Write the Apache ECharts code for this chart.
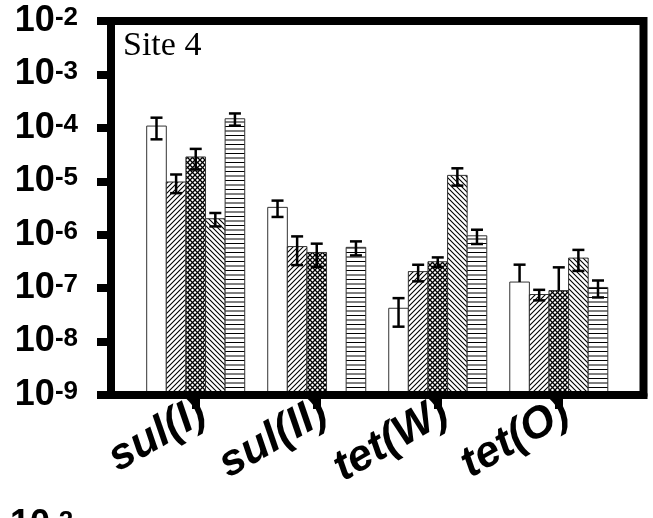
<!DOCTYPE html>
<html>
<head>
<meta charset="utf-8">
<script src="https://cdn.jsdelivr.net/npm/echarts@6/dist/echarts.min.js"></script>
<style>html,body{margin:0;padding:0;background:#fff}#c{width:653px;height:518px}</style>
</head>
<body>
<div id="c"></div>
<script>
// ---- data ----
const categories = ['sul(I)', 'sul(II)', 'tet(W)', 'tet(O)'];
const categoryPos = [1, 2, 3, 4];
const yTicks = [1e-9, 1e-8, 1e-7, 1e-6, 1e-5, 1e-4, 1e-3, 1e-2];
const openVals  = [1.08e-4, 3.25e-6, 4.2e-8, 1.3e-7];
const openErr   = [4.7e-5, 1.1e-6, 2.3e-8, 1.45e-7];
const diagVals  = [9.7e-6, 6.0e-7, 2.04e-7, 7.6e-8];
const diagErr   = [3.7e-6, 3.3e-7, 7.0e-8, 1.7e-8];
const crossVals = [2.85e-5, 4.65e-7, 3.12e-7, 9.0e-8];
const crossErr  = [1.19e-5, 2.15e-7, 6.4e-8, 1.55e-7];
const backVals  = [1.99e-6, null, 1.29e-5, 3.65e-7];
const backErr   = [5.6e-7, null, 4.6e-6, 1.55e-7];
const horizVals = [1.48e-4, 5.8e-7, 9.55e-7, 1.03e-7];
const horizErr  = [3.8e-5, 1.7e-7, 2.85e-7, 3.6e-8];

// ---- patterns ----
function makePattern(kind) {
  const c = document.createElement('canvas');
  let w = 5, h = 5;
  if (kind === 'horiz') { w = 4; h = 9; }
  c.width = w; c.height = h;
  const g = c.getContext('2d');
  g.fillStyle = '#fff'; g.fillRect(0, 0, w, h);
  g.strokeStyle = '#000';
  g.lineWidth = 1.1;
  function diag(dir) {
    g.beginPath();
    for (let k = -1; k <= 1; k++) {
      if (dir > 0) { g.moveTo(-1 + k * w, h + 1); g.lineTo(w + 1 + k * w, -1); }
      else { g.moveTo(-1 + k * w, -1); g.lineTo(w + 1 + k * w, h + 1); }
    }
    g.stroke();
  }
  if (kind === 'diag') diag(1);
  if (kind === 'back') diag(-1);
  if (kind === 'cross') { g.lineWidth = 1.3; diag(1); diag(-1); }
  if (kind === 'horiz') {
    g.lineWidth = 1;
    g.beginPath(); g.moveTo(0, 0.5); g.lineTo(w, 0.5); g.moveTo(0, 5); g.lineTo(w, 5); g.stroke();
  }
  if (kind === 'open') return '#fff';
  return { image: c, repeat: 'repeat' };
}

const groups = [
  { name: 'open',  vals: openVals,  err: openErr },
  { name: 'diag',  vals: diagVals,  err: diagErr },
  { name: 'cross', vals: crossVals, err: crossErr },
  { name: 'back',  vals: backVals,  err: backErr },
  { name: 'horiz', vals: horizVals, err: horizErr }
];
const barW = 0.162;
const yMin = 1e-9;

const series = groups.map((gr, j) => {
  const fill = makePattern(gr.name);
  const off = (j - 2) * barW;
  const data = [];
  gr.vals.forEach((v, i) => { if (v != null) data.push([categoryPos[i], v, gr.err[i]]); });
  return {
    type: 'custom',
    name: gr.name,
    z: 2,
    data: data,
    clip: false,
    renderItem: function (params, api) {
      const x = api.value(0), v = api.value(1), e = api.value(2);
      const pL = api.coord([x + off - barW / 2, yMin]);
      const pR = api.coord([x + off + barW / 2, v]);
      const cx = api.coord([x + off, v])[0];
      const top = api.coord([x + off, v + e])[1];
      const lowV = v - e;
      const bot = lowV > 0 ? api.coord([x + off, lowV])[1] : pR[1];
      const cap = 6;
      const children = [
        { type: 'rect', shape: { x: pL[0], y: pR[1], width: pR[0] - pL[0], height: pL[1] - pR[1] },
          style: { fill: fill, stroke: '#333', lineWidth: 1 } },
        { type: 'line', shape: { x1: cx, y1: top, x2: cx, y2: bot }, style: { stroke: '#000', lineWidth: 2.5 } },
        { type: 'line', shape: { x1: cx - cap, y1: top, x2: cx + cap, y2: top }, style: { stroke: '#000', lineWidth: 2.5 } }
      ];
      if (lowV > 0) children.push({ type: 'line', shape: { x1: cx - cap, y1: bot, x2: cx + cap, y2: bot }, style: { stroke: '#000', lineWidth: 2.5 } });
      return { type: 'group', children: children };
    }
  };
});

const chart = echarts.init(document.getElementById('c'), null, { renderer: 'canvas' });
const supRich = {
  a: { fontFamily: 'Liberation Sans', fontWeight: 'bold', fontSize: 36, color: '#000', lineHeight: 32 },
  b: { fontFamily: 'Liberation Sans', fontWeight: 'bold', fontSize: 26, color: '#000', verticalAlign: 'top', lineHeight: 22 }
};
function expLabel(v) { return '{a|10}{b|' + Math.round(Math.log10(v)) + '}'; }
const labelShift = 0.06;

chart.setOption({
  animation: false,
  backgroundColor: '#fff',
  title: {
    text: 'Site 4', left: 123, top: 29, padding: 0,
    textStyle: { fontFamily: 'Liberation Serif', fontWeight: 'normal', fontSize: 34, color: '#000' }
  },
  grid: { left: 111, right: 9.5, top: 21, bottom: 123, show: true, borderColor: '#000', borderWidth: 8, backgroundColor: 'transparent' },
  xAxis: {
    type: 'value', min: 0.3, max: 4.7, z: 5,
    splitLine: { show: false },
    axisLine: { show: true, lineStyle: { color: '#000', width: 8 } },
    axisTick: { show: true, customValues: categoryPos, length: 14, lineStyle: { color: '#000', width: 8 } },
    axisLabel: {
      customValues: categoryPos.map(p => p + labelShift),
      formatter: v => categories[Math.round(v) - 1] || '',
      rotate: 30, margin: 14,
      fontFamily: 'Liberation Sans', fontStyle: 'italic', fontWeight: 'bold', fontSize: 44, color: '#000'
    }
  },
  yAxis: {
    type: 'log', logBase: 10, min: yTicks[0], max: yTicks[yTicks.length - 1], interval: 1, z: 5,
    splitLine: { show: false },
    axisLine: { show: true, lineStyle: { color: '#000', width: 8 } },
    axisTick: { show: true, length: 14, lineStyle: { color: '#000', width: 8 } },
    axisLabel: { formatter: expLabel, margin: 33, rich: supRich }
  },
  graphic: [{
    type: 'text', left: 10, top: 507,
    style: { text: expLabel(1e-2), rich: supRich }
  }],
  series: series
});
</script>
</body>
</html>
